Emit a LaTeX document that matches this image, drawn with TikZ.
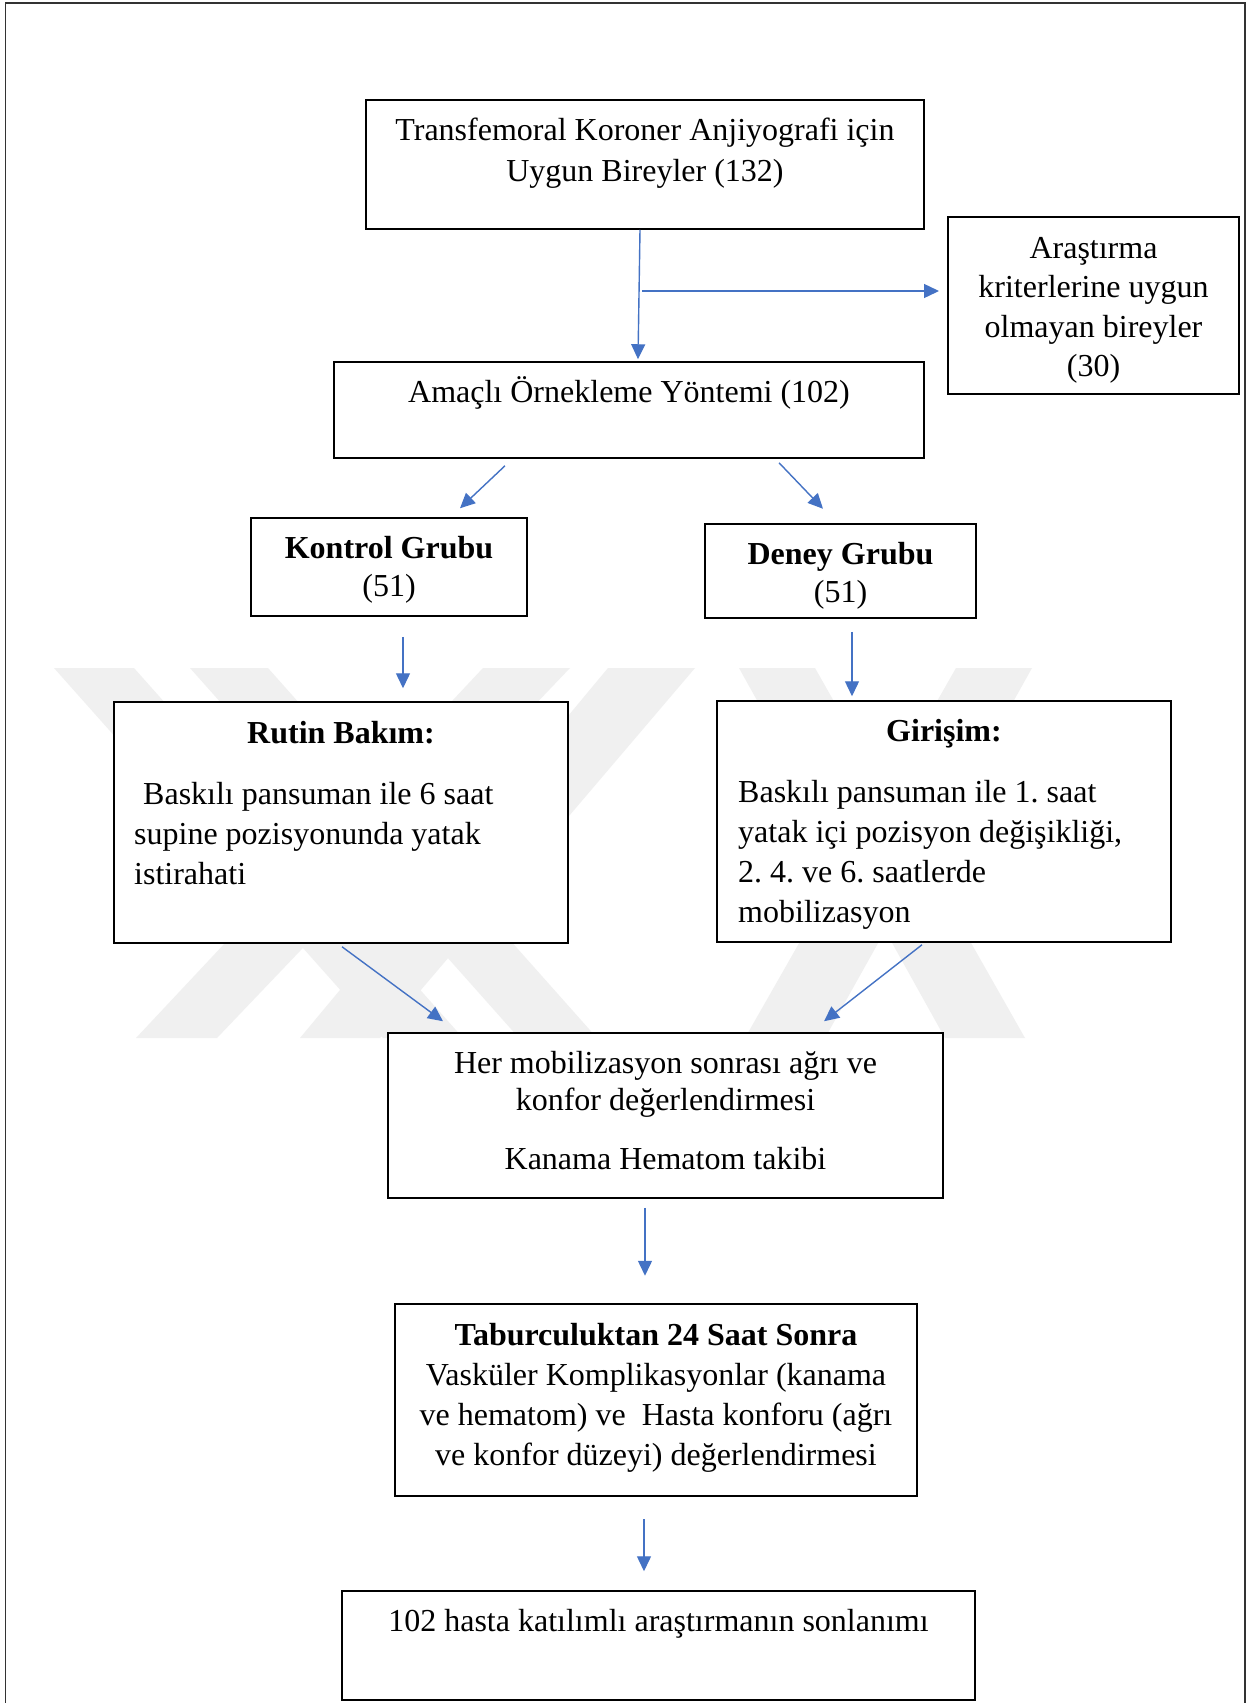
\documentclass[tikz,border=0pt]{standalone}
\usepackage{fontspec}
\setmainfont{Liberation Serif}
\usetikzlibrary{arrows.meta,calc}
\definecolor{arrblue}{HTML}{4472C4}
\definecolor{wmgray}{HTML}{F0F0F0}
\begin{document}
\begin{tikzpicture}[x=1pt,y=-1pt,
  box/.style={draw=black, fill=white, line width=1.5pt, inner sep=0pt},
  txt/.style={inner sep=0pt, align=center, font=\fontsize{32}{40}\selectfont\frenchspacing},
  ltxt/.style={inner sep=0pt, align=left, font=\fontsize{32}{40}\selectfont\frenchspacing},
  arr/.style={draw=arrblue, line width=1.4pt, -{Triangle[length=15pt,width=14pt]}},
  frame/.style={draw=black!80, line width=1.5pt},
  wm/.style={fill=wmgray, draw=none}
]
\def\sh{28}
\useasboundingbox (0,0) rectangle (1257,1703);
\fill[white] (0,0) rectangle (1257,1703);

% watermark (light grey diagonal bands)
\fill[wm] (54,668) -- (134,668) -- (463,1038) -- (383,1038) -- cycle;
\fill[wm] (190,668) -- (268,668) -- (597,1038) -- (519,1038) -- cycle;
\fill[wm] (483,668) -- (570,668) -- (217,1038) -- (136,1038) -- cycle;
\fill[wm] (608,668) -- (695,668) -- (380,1038) -- (300,1038) -- cycle;
\fill[wm] (739,668) -- (815,668) -- (1025,1038) -- (945,1038) -- cycle;
\fill[wm] (956,668) -- (1032,668) -- (825,1038) -- (745,1038) -- cycle;

\draw[frame] (5.5,1703) -- (5.5,3) -- (1245,3) -- (1245,1703);

% boxes
\node[box, minimum width=558pt, minimum height=129pt] (b1) at (645,164.5) {};
\node[box, line width=2pt, minimum width=291pt, minimum height=177pt] (ara) at (1093.5,305.5) {};
\node[box, minimum width=590pt, minimum height=96pt] (amac) at (629,410) {};
\node[box, minimum width=276pt, minimum height=98pt] (kon) at (389,567) {};
\node[box, minimum width=271pt, minimum height=94pt] (den) at (840.5,571) {};
\node[box, minimum width=454pt, minimum height=241pt] (rut) at (341,822.5) {};
\node[box, minimum width=454pt, minimum height=241pt] (gir) at (944,821.5) {};
\node[box, minimum width=555pt, minimum height=165pt] (her) at (665.5,1115.5) {};
\node[box, line width=2.5pt, minimum width=522pt, minimum height=192pt] (tab) at (656,1400) {};
\node[box, minimum width=633pt, minimum height=109pt] (son) at (658.5,1645.5) {};

% texts
\node[txt, font=\fontsize{32}{41}\selectfont, anchor=north] (t-b1) at (645,140-28.7) {\strut Transfemoral Koroner Anjiyografi için\\Uygun Bireyler (132)};
\node[txt, font=\fontsize{32}{39.5}\selectfont, anchor=north] (t-ara) at (1093.5,258-27.65) {\strut Araştırma\\kriterlerine uygun\\olmayan bireyler\\(30)};
\node[txt, anchor=base] (t-amac) at (629,402) {Amaçlı Örnekleme Yöntemi (102)};
\node[txt, font=\fontsize{32}{38}\selectfont, anchor=north] (t-kon) at (389,558-26.6) {\strut\textbf{Kontrol Grubu}\\(51)};
\node[txt, font=\fontsize{32}{38}\selectfont, anchor=north] (t-den) at (840.5,564-26.6) {\strut\textbf{Deney Grubu}\\(51)};
\node[txt, anchor=base] (t-rut1) at (341,743) {\textbf{Rutin Bakım:}};
\node[ltxt, anchor=north west] (t-rut2) at (134,804-\sh) {\strut\hspace*{9pt}Baskılı pansuman ile 6 saat\\supine pozisyonunda yatak\\istirahati};
\node[txt, anchor=base] (t-gir1) at (944,741) {\textbf{Girişim:}};
\node[ltxt, anchor=north west] (t-gir2) at (738,802-\sh) {\strut Baskılı pansuman ile 1. saat\\yatak içi pozisyon değişikliği,\\2. 4. ve 6. saatlerde\\mobilizasyon};
\node[txt, font=\fontsize{32}{37}\selectfont, anchor=north] (t-her) at (665.5,1073-25.9) {\strut Her mobilizasyon sonrası ağrı ve\\konfor değerlendirmesi\\[22pt]Kanama Hematom takibi};
\node[txt, anchor=north] (t-tab) at (656,1345-\sh) {\strut\textbf{Taburculuktan 24 Saat Sonra}\\Vasküler Komplikasyonlar (kanama\\ve hematom) ve\ \ Hasta konforu (ağrı\\ve konfor düzeyi) değerlendirmesi};
\node[txt, anchor=base] (t-son) at (658.5,1631) {102 hasta katılımlı araştırmanın sonlanımı};

% connectors
\draw[arr] ($(b1.south)+(-5,0)$) -- ($(amac.north)+(9,-2)$);
\coordinate (split) at (642,291);
\draw[arr] (split) -- ($(ara.west)+(-8,-14.5)$);
\draw[arr] ($(amac.south)+(-124,7)$) -- ($(kon.north)+(71,-9)$);
\draw[arr] ($(amac.south)+(150,4)$) -- ($(den.north)+(-17.5,-14.5)$);
\draw[arr] ($(kon.south)+(14,20)$) -- ($(rut.north)+(62,-13)$);
\draw[arr] ($(den.south)+(11.5,13)$) -- ($(gir.north)+(-92,-4)$);
\draw[arr] ($(rut.south)+(1,3)$) -- ($(her.north)+(-222.5,-11)$);
\draw[arr] ($(gir.south)+(-22,2)$) -- ($(her.north)+(158.5,-11)$);
\draw[arr] ($(her.south)+(-20.5,9)$) -- ($(tab.north)+(-11,-27)$);
\draw[arr] ($(tab.south)+(-12,22)$) -- ($(son.north)+(-14.5,-19)$);
\end{tikzpicture}
\end{document}
